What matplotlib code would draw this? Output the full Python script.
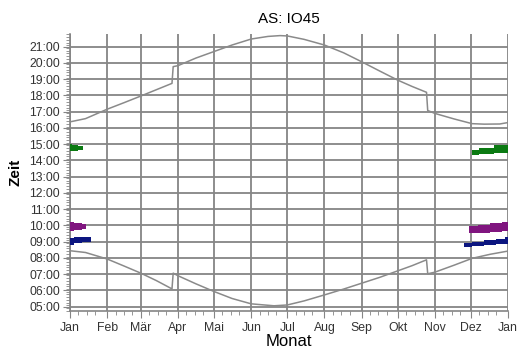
import matplotlib
matplotlib.use('Agg')
import matplotlib.pyplot as plt
import numpy as np

plt.rcParams['font.family'] = ['Liberation Sans', 'DejaVu Sans']

# day of year (0 = 1. Jan) and time in hours
sunset_day = [0, 13, 31, 45, 59, 72, 85, 86, 90, 105, 120, 135, 151, 165, 175, 181,
              195, 212, 228, 243, 258, 273, 285, 297, 298, 304, 320, 335, 345, 358, 365]
sunset_h = [16.37, 16.57, 17.15, 17.55, 17.96, 18.35, 18.74, 19.77, 19.83, 20.3, 20.7, 21.1,
            21.47, 21.63, 21.68, 21.66, 21.45, 21.1, 20.62, 20.07, 19.5, 18.94, 18.55, 18.19,
            17.07, 16.89, 16.55, 16.26, 16.23, 16.24, 16.33]

sunrise_day = [0, 13, 31, 45, 59, 72, 85, 86, 90, 105, 120, 135, 151, 170, 181,
               195, 212, 228, 243, 258, 273, 285, 297, 298, 304, 320, 335, 350, 365]
sunrise_h = [8.44, 8.33, 7.93, 7.5, 7.06, 6.6, 6.09, 7.06, 6.9, 6.4, 5.93, 5.5, 5.17, 5.05, 5.1,
             5.35, 5.72, 6.08, 6.44, 6.8, 7.2, 7.52, 7.88, 7.02, 7.12, 7.55, 7.97, 8.22, 8.42]

# observation windows (stepped bands)
green_jan_day = [0, 2, 7, 11]
green_jan_lo = [14.55, 14.58, 14.63, 14.63]
green_jan_hi = [15.02, 14.95, 14.9, 14.9]
green_dec_day = [335, 341, 353, 365]
green_dec_lo = [14.34, 14.37, 14.45, 14.45]
green_dec_hi = [14.66, 14.74, 14.92, 14.92]

purple_jan_day = [0, 3, 10, 13]
purple_jan_lo = [9.66, 9.7, 9.78, 9.78]
purple_jan_hi = [10.22, 10.14, 10.07, 10.07]
purple_dec_day = [332, 340, 350, 360, 365]
purple_dec_lo = [9.53, 9.53, 9.58, 9.63, 9.63]
purple_dec_hi = [9.97, 10.02, 10.12, 10.22, 10.22]

navy_jan_day = [0, 3, 10, 17.5]
navy_jan_lo = [8.82, 8.92, 8.96, 8.96]
navy_jan_hi = [9.2, 9.26, 9.3, 9.3]
navy_dec_day = [328, 335, 345, 355, 362, 365]
navy_dec_lo = [8.68, 8.76, 8.8, 8.83, 8.88, 8.88]
navy_dec_hi = [8.94, 9.0, 9.07, 9.17, 9.3, 9.3]

month_start = [0, 31, 59, 90, 120, 151, 181, 212, 243, 273, 304, 334, 365]
month_labels = ['Jan', 'Feb', 'Mär', 'Apr', 'Mai', 'Jun', 'Jul', 'Aug', 'Sep', 'Okt', 'Nov', 'Dez', 'Jan']
hours = list(range(5, 22))

fig = plt.figure(figsize=(5.18, 3.54), dpi=100)
ax = fig.add_axes([0.135, 0.1215, 0.846, 0.7825])

grid_c = '#858585'
ax.plot(sunset_day, sunset_h, color='#8a8a8a', lw=1.1, zorder=3)
ax.plot(sunrise_day, sunrise_h, color='#8a8a8a', lw=1.1, zorder=3)

bands = [
    (green_jan_day, green_jan_lo, green_jan_hi, '#0b7a12'),
    (green_dec_day, green_dec_lo, green_dec_hi, '#0b7a12'),
    (purple_jan_day, purple_jan_lo, purple_jan_hi, '#80157f'),
    (purple_dec_day, purple_dec_lo, purple_dec_hi, '#80157f'),
    (navy_jan_day, navy_jan_lo, navy_jan_hi, '#0c1680'),
    (navy_dec_day, navy_dec_lo, navy_dec_hi, '#0c1680'),
]
for d, lo, hi, c in bands:
    ax.fill_between(d, lo, hi, step='post', color=c, lw=0, zorder=4)

ax.set_xlim(0, 365)
ax.set_ylim(4.73, 21.78)

ax.set_xticks(month_start)
ax.set_xticklabels(month_labels)
minor_x = [m + k for m in month_start[:-1] for k in (7, 14, 21)]
ax.set_xticks(minor_x, minor=True)

ax.set_yticks(hours)
ax.set_yticklabels(['%02d:00' % h for h in hours])
ax.set_yticks(np.arange(4.75, 21.8, 1 / 6.0), minor=True)

ax.grid(True, which='major', color=grid_c, lw=1.3)
for s in ['top', 'right']:
    ax.spines[s].set_visible(False)
for s in ['left', 'bottom']:
    ax.spines[s].set_color(grid_c)
    ax.spines[s].set_linewidth(1.2)

ax.tick_params(which='major', length=5, color=grid_c, labelsize=8.8, labelcolor='#333333')
ax.tick_params(which='minor', length=3, color=grid_c)
ax.tick_params(axis='y', pad=2)
ax.tick_params(axis='x', pad=3)

ax.set_title('AS: IO45', fontsize=11, pad=8)
ax.set_xlabel('Monat', fontsize=12, labelpad=0)
ax.set_ylabel('Zeit', fontsize=11, fontweight='bold', labelpad=5)

plt.savefig('out.png', dpi=100)
plt.close()
